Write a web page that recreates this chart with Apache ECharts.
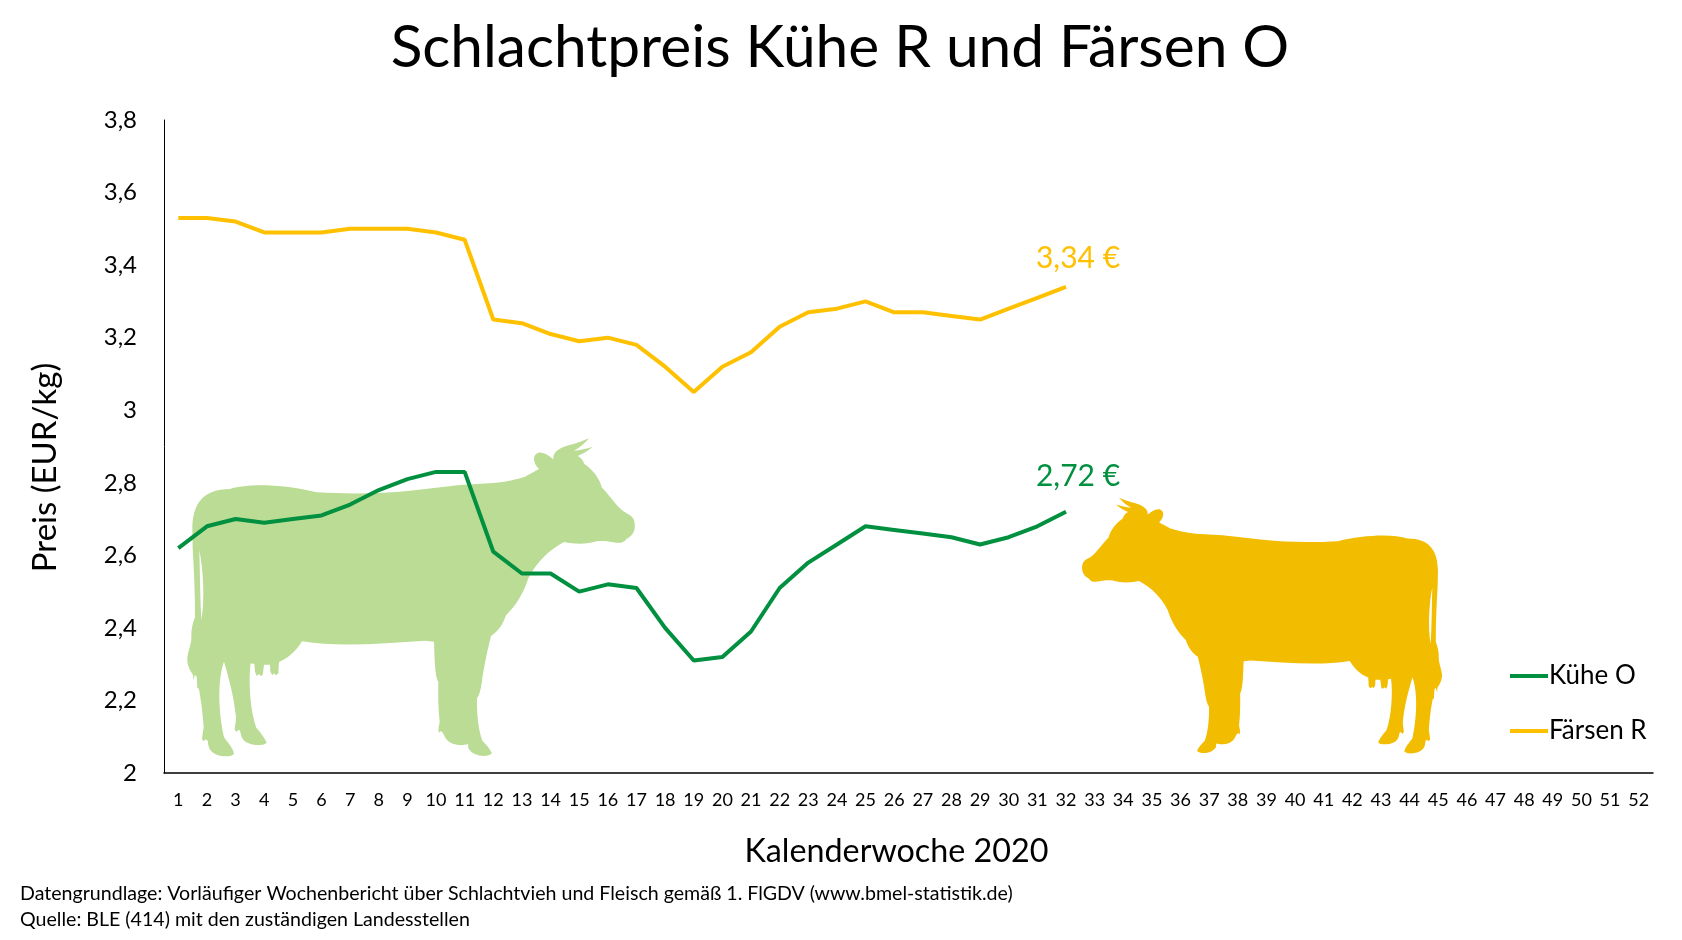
<!DOCTYPE html>
<html>
<head>
<meta charset="utf-8">
<title>Schlachtpreis</title>
<script src="https://cdn.jsdelivr.net/npm/echarts@6/dist/echarts.min.js"></script>
<style>
  html, body { margin: 0; padding: 0; background: #fff; }
  #main { width: 1682px; height: 940px; }
</style>
</head>
<body>
<div id="main"></div>
<script>
  var FONT = 'Lato';

  // Kalenderwochen 1-52
  var weeks = ['1','2','3','4','5','6','7','8','9','10','11','12','13','14','15','16','17','18','19','20','21','22','23','24','25','26','27','28','29','30','31','32','33','34','35','36','37','38','39','40','41','42','43','44','45','46','47','48','49','50','51','52'];
  var kueheO = [2.62,2.68,2.70,2.69,2.70,2.71,2.74,2.78,2.81,2.83,2.83,2.61,2.55,2.55,2.50,2.52,2.51,2.40,2.31,2.32,2.39,2.51,2.58,2.63,2.68,2.67,2.66,2.65,2.63,2.65,2.68,2.72];
  var faersenR = [3.53,3.53,3.52,3.49,3.49,3.49,3.50,3.50,3.50,3.49,3.47,3.25,3.24,3.21,3.19,3.20,3.18,3.12,3.05,3.12,3.16,3.23,3.27,3.28,3.30,3.27,3.27,3.26,3.25,3.28,3.31,3.34];

  // Kuh-Silhouette, nur Dekoration
  var cowPath = 'M157,330 C157,250 190,207 270,207 C330,188 440,195 530,217 C620,222 720,222 810,212 L960,195 L1060,189 C1100,185 1130,178 1155,170 L1197,147 C1180,130 1175,105 1195,98 C1210,95 1228,108 1240,118 C1238,90 1270,80 1300,72 C1320,66 1335,60 1347,55 C1335,70 1320,82 1302,92 C1320,90 1340,86 1358,80 C1345,92 1330,100 1313,108 C1322,112 1330,122 1333,132 C1360,150 1378,175 1386,203 C1410,225 1430,265 1465,283 C1480,290 1487,305 1484,325 C1482,340 1472,352 1460,356 C1452,370 1435,370 1420,367 C1400,363 1385,362 1370,364 C1340,374 1300,372 1272,366 C1230,388 1190,425 1165,475 C1150,520 1130,555 1098,586 C1090,610 1075,635 1053,648 C1040,700 1030,750 1025,790 C1022,810 1018,825 1011,835 C1010,880 1015,930 1027,962 C1040,975 1050,987 1056,1000 C1045,1012 1000,1012 985,985 C985,980 985,975 983,972 C970,977 925,980 912,945 L908,938 L903,933 L897,938 C893,925 898,915 899,905 C895,870 894,830 895,785 C885,770 884,720 882,665 L855,662 C730,670 600,682 486,664 C470,690 450,712 417,726 L415,760 L408,766 L402,760 L397,766 L391,755 L390,734 L372,734 L368,765 L362,768 L357,762 L350,768 L345,755 L343,732 L332,730 C325,780 330,870 349,923 C362,938 375,955 380,968 C370,980 310,980 303,945 L300,932 L295,929 L290,936 L284,930 C285,915 288,905 288,893 C282,830 268,780 252,725 C235,770 232,860 252,952 C265,970 280,985 282,1002 C270,1015 210,1012 205,975 L203,962 L197,958 L192,964 L186,958 C187,945 190,930 191,920 C188,880 182,830 176,805 L172,805 L170,770 L165,765 L160,780 L159,765 C150,750 140,735 142,712 C145,690 155,670 154,650 C153,630 158,610 165,592 C165,520 162,450 158,385 Z M178,390 C180,460 180,530 184,600 C195,540 190,450 178,390 Z';

  echarts.graphic.registerShape('cow', echarts.graphic.extendPath(cowPath, {}));

  function price(v) {
    return String(v).replace('.', ',');
  }

  // letzter Punkt bekommt das Preis-Label
  function withEndLabel(values, color, distance) {
    return values.map(function (v, i) {
      if (i < values.length - 1) return v;
      return {
        value: v,
        label: {
          show: true,
          position: 'top',
          distance: distance,
          offset: [12, 0],
          formatter: price(v) + ' €',
          color: color,
          fontFamily: FONT,
          fontSize: 30
        }
      };
    });
  }

  var myChart = echarts.init(document.getElementById('main'));

  var option = {
    animation: false,
    backgroundColor: '#fff',
    textStyle: { fontFamily: FONT, color: '#000' },
    title: [
      { text: 'Schlachtpreis Kühe R und Färsen O', left: 835, top: 14, textAlign: 'center',
        textStyle: { fontFamily: FONT, fontSize: 58.6, fontWeight: 'normal', color: '#000' } },
      { text: 'Datengrundlage: Vorläufiger Wochenbericht über Schlachtvieh und Fleisch gemäß 1. FlGDV (www.bmel-statistik.de)', left: 20, top: 884, padding: 0,
        textStyle: { fontFamily: FONT, fontSize: 19.6, fontWeight: 'normal', color: '#000' } },
      { text: 'Quelle: BLE (414) mit den zuständigen Landesstellen', left: 20, top: 910, padding: 0,
        textStyle: { fontFamily: FONT, fontSize: 19.6, fontWeight: 'normal', color: '#000' } }
    ],
    legend: {
      orient: 'vertical',
      left: 1510,
      top: 663,
      itemWidth: 38,
      itemHeight: 4,
      itemGap: 29,
      icon: 'rect',
      padding: 0,
      textStyle: { fontFamily: FONT, fontSize: 26, color: '#000', padding: [0, 0, 0, -4] },
      data: ['Kühe O', 'Färsen R']
    },
    grid: { left: 164, right: 29, top: 120, bottom: 167 },
    xAxis: {
      type: 'category',
      data: weeks,
      boundaryGap: true,
      name: 'Kalenderwoche 2020',
      nameLocation: 'middle',
      nameGap: 63,
      nameTextStyle: { fontSize: 32.3, color: '#000', padding: [0, 24, 0, 0] },
      axisLine: { lineStyle: { color: '#000', width: 1.5 } },
      axisTick: { show: false },
      axisLabel: { interval: 0, fontSize: 18, color: '#000', margin: 18 }
    },
    yAxis: {
      type: 'value',
      min: 2,
      max: 3.8,
      interval: 0.2,
      name: 'Preis (EUR/kg)',
      nameLocation: 'middle',
      nameGap: 102,
      nameTextStyle: { fontSize: 33, color: '#000', padding: [0, 42, 0, 0] },
      axisLine: { show: true, lineStyle: { color: '#000', width: 1 } },
      axisTick: { show: false },
      splitLine: { show: false },
      axisLabel: { fontSize: 24, color: '#000', margin: 27, formatter: price }
    },
    series: [
      {
        name: 'Kühe O',
        type: 'line',
        data: withEndLabel(kueheO, '#00903F', 20),
        symbol: 'circle',
        symbolSize: 0,
        z: 5,
        lineStyle: { color: '#00903F', width: 4 },
        itemStyle: { color: '#00903F' }
      },
      {
        name: 'Färsen R',
        type: 'line',
        data: withEndLabel(faersenR, '#FFC000', 14),
        symbol: 'circle',
        symbolSize: 0,
        z: 5,
        lineStyle: { color: '#FFC000', width: 4 },
        itemStyle: { color: '#FFC000' }
      }
    ],
    graphic: [
      { type: 'cow', x: 140, y: 420, scaleX: 1 / 3, scaleY: 1 / 3, z: 0,
        shape: {}, style: { fill: '#BBDC94' } },
      { type: 'cow', x: 1480, y: 483, scaleX: -0.268, scaleY: 0.268, z: 0,
        shape: {}, style: { fill: '#F2BC00' } }
    ]
  };

  myChart.setOption(option);
</script>
</body>
</html>
